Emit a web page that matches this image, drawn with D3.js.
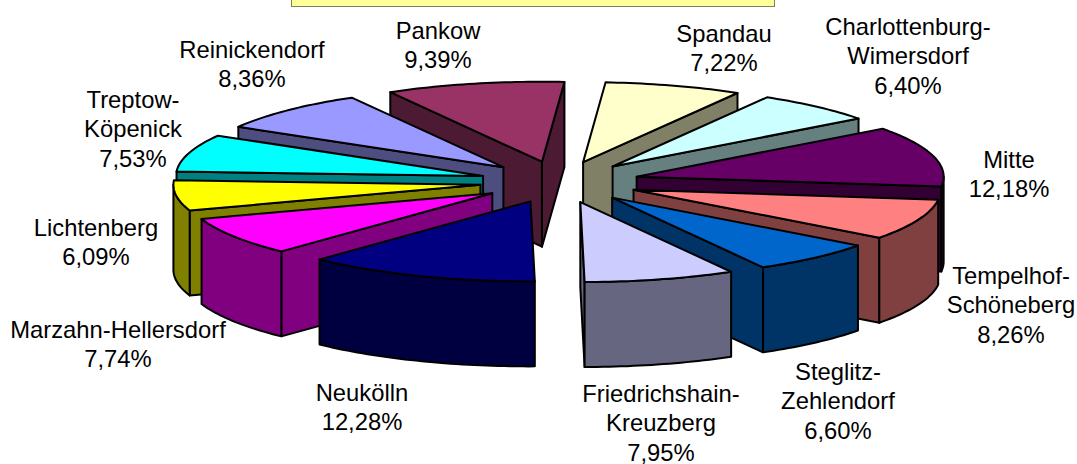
<!DOCTYPE html>
<html><head><meta charset="utf-8">
<script src="https://cdn.jsdelivr.net/npm/d3@7/dist/d3.min.js"></script>
<style>html,body{margin:0;padding:0;background:#fff}svg{display:block}</style>
</head><body><svg id="c" width="1077" height="464"></svg>
<script>
const districts = ["Spandau","Charlottenburg-Wimersdorf","Mitte","Tempelhof-Schöneberg","Steglitz-Zehlendorf","Friedrichshain-Kreuzberg","Neukölln","Marzahn-Hellersdorf","Lichtenberg","Treptow-Köpenick","Reinickendorf","Pankow"];
const shares = [7.22,6.40,12.18,8.26,6.60,7.95,12.28,7.74,6.09,7.53,8.36,9.39];
const labelLines = [["Spandau"],["Charlottenburg-","Wimersdorf"],["Mitte"],["Tempelhof-","Schöneberg"],["Steglitz-","Zehlendorf"],["Friedrichshain-","Kreuzberg"],["Neukölln"],["Marzahn-Hellersdorf"],["Lichtenberg"],["Treptow-","Köpenick"],["Reinickendorf"],["Pankow"]];
const topColors = ["#FFFFCC","#CCFFFF","#660066","#FF8080","#0066CC","#CCCCFF","#000080","#FF00FF","#FFFF00","#00FFFF","#9999FF","#993366"];
const wallColors = ["#808066","#668080","#330033","#804040","#003366","#666680","#000040","#800080","#808000","#008080","#4D4D80","#4D1A33"];
const labelCenters = [[724,33],[908,26],[1009,159],[1011,275],[838,371],[661,393],[362,392],[118,329],[96,227],[133,99],[252,49],[438,30]];

const svg = d3.select("#c");
const cx=559.5, cy=182, rx=307, ry=80, depth=85, explode=0.26;
const startDeg = 4.2*Math.PI/180;
const pie = d3.pie().sort(null).startAngle(startDeg).endAngle(startDeg+2*Math.PI);
const arcs = pie(shares);
const lineGen = d3.line();
const fmt = v => v.toFixed(2).replace(".",",")+"%";

svg.append("rect").attr("x",291.5).attr("y",-5).attr("width",483).attr("height",11.5)
  .attr("fill","#FFFF99").attr("stroke","#808060").attr("stroke-width",1);

function arcPts(a0,a1,ox,oy,dy){
  const n=Math.max(2,Math.ceil((a1-a0)/0.02)), out=[];
  for(let i=0;i<=n;i++){const t=a0+(a1-a0)*i/n; out.push([ox+rx*Math.sin(t), oy-ry*Math.cos(t)+dy]);}
  return out;
}
const slices = arcs.map((d,i)=>{
  const mid=(d.startAngle+d.endAngle)/2;
  return {d,i,mid,ox:cx+explode*rx*Math.sin(mid),oy:cy-explode*ry*Math.cos(mid)};
}).sort((a,b)=>a.oy-b.oy);

const g = svg.append("g").attr("stroke","#000").attr("stroke-width",2).attr("stroke-linejoin","round");
slices.forEach(s=>{
  const {d,i,ox,oy}=s, a0=d.startAngle, a1=d.endAngle;
  const layer=g.append("g");
  const wall=pts=>layer.append("path").attr("d",lineGen(pts)+"Z").attr("fill",wallColors[i]);
  const edge=a=>[[ox,oy],[ox+rx*Math.sin(a),oy-ry*Math.cos(a)],[ox+rx*Math.sin(a),oy-ry*Math.cos(a)+depth],[ox,oy+depth]];
  if(-Math.cos(a0-Math.PI/2)>0) wall(edge(a0));
  if(-Math.cos(a1+Math.PI/2)>0) wall(edge(a1));
  const w0=Math.max(a0,Math.PI/2), w1=Math.min(a1,3*Math.PI/2);
  if(w1>w0) wall(arcPts(w0,w1,ox,oy,0).concat(arcPts(w0,w1,ox,oy,depth).reverse()));
  layer.append("path").attr("d",lineGen([[ox,oy]].concat(arcPts(a0,a1,ox,oy,0)))+"Z").attr("fill",topColors[i]);
});

const lh=29.5;
const labels=svg.append("g").attr("font-family","'Liberation Sans',Arial,sans-serif").attr("font-size",23.8).attr("fill","#000").attr("text-anchor","middle");
labelLines.forEach((lines,i)=>{
  const [x,y]=labelCenters[i];
  const t=labels.append("text").attr("x",x).attr("y",y);
  lines.concat([fmt(shares[i])]).forEach((l,k)=>t.append("tspan").attr("x",x).attr("y",y+k*lh).attr("dominant-baseline","central").text(l));
});
</script></body></html>
